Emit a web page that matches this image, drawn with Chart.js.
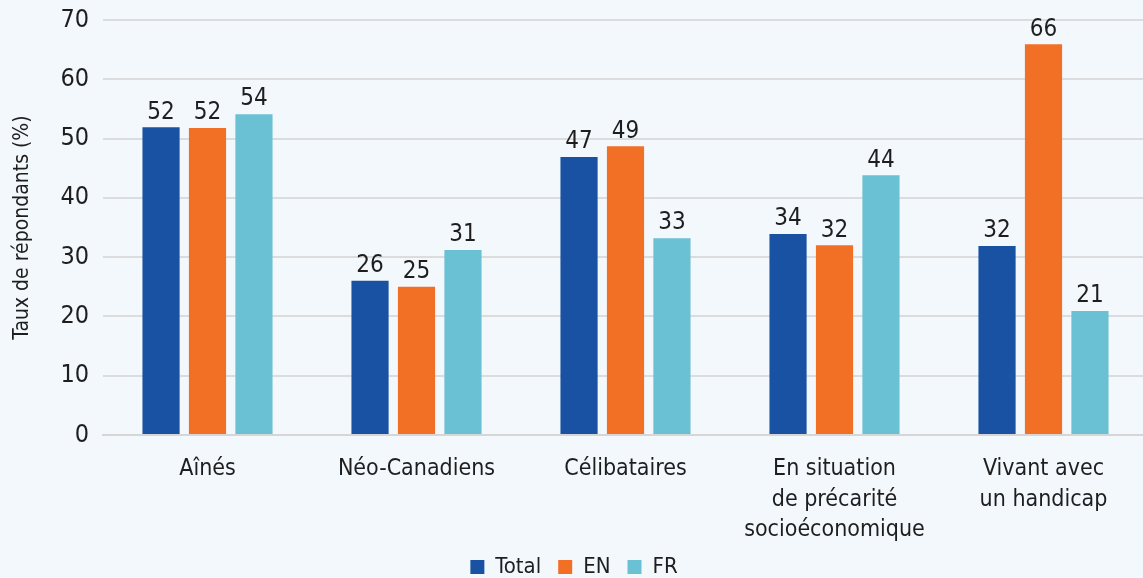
<!DOCTYPE html>
<html><head><meta charset="utf-8">
<script src="https://cdn.jsdelivr.net/npm/chart.js@4/dist/chart.umd.min.js"></script>
<style>
html,body{margin:0;padding:0;background:#f3f8fc;overflow:hidden;width:1143px;height:578px;}
#wrap{position:absolute;left:0;top:0;width:1148px;height:578px;}
</style></head>
<body><div id="wrap"><canvas id="c" width="1148" height="578"></canvas></div>
<script>
const categories = [["Aînés"], ["Néo-Canadiens"], ["Célibataires"], ["En situation","de précarité","socioéconomique"], ["Vivant avec","un handicap"]];
const seriesNames = ["Total", "EN", "FR"];
const totalValues = [51.9, 26.0, 46.9, 33.9, 31.9];
const enValues = [51.8, 25.0, 48.7, 32.0, 65.9];
const frValues = [54.1, 31.2, 33.2, 43.8, 20.9];
const colors = ["#1a52a3", "#f26f26", "#6bc1d4"];
const yTicks = [0, 10, 20, 30, 40, 50, 60, 70];
const FONT = "'DejaVu Sans Condensed','Liberation Sans Narrow','Roboto',sans-serif";

const labelPlugin = {
  id: 'valLabels',
  afterLayout(chart) {
    if (chart.legend) { chart.legend.top = 539; chart.legend.bottom = 578; chart.legend.height = 39; }
  },
  afterDatasetsDraw(chart) {
    const ctx = chart.ctx;
    ctx.save();
    ctx.font = "24px " + FONT;
    ctx.fillStyle = "#1e1e1e";
    ctx.textAlign = "center";
    ctx.textBaseline = "bottom";
    chart.data.datasets.forEach((ds, i) => {
      chart.getDatasetMeta(i).data.forEach((bar, j) => {
        ctx.fillText(String(Math.round(ds.data[j])), bar.x, bar.y - 3);
      });
    });
    ctx.restore();
  }
};

new Chart(document.getElementById('c'), {
  type: 'bar',
  data: {
    labels: categories,
    datasets: [
      {label: seriesNames[0], data: totalValues, backgroundColor: colors[0]},
      {label: seriesNames[1], data: enValues, backgroundColor: colors[1]},
      {label: seriesNames[2], data: frValues, backgroundColor: colors[2]}
    ]
  },
  options: {
    responsive: false,
    animation: false,
    devicePixelRatio: 1,
    categoryPercentage: 0.667,
    barPercentage: 0.8,
    layout: {padding: {top: 20, right: 0, left: 0, bottom: 0}},
    plugins: {
      legend: {
        position: 'bottom',
        maxHeight: 31,
        labels: {
          font: {family: FONT, size: 22},
          color: "#1e1e1e",
          boxWidth: 14, boxHeight: 14,
          padding: 17
        }
      },
      tooltip: {enabled: false}
    },
    scales: {
      x: {
        grid: {display: false},
        border: {display: true, color: "#d6d6d6", width: 2},
        ticks: {font: {family: FONT, size: 23, lineHeight: 1.33}, color: "#1e1e1e", maxRotation: 0, padding: 11},
        afterFit(s) { s.height = 112; s.paddingLeft = 0; s.paddingRight = 0; }
      },
      y: {
        min: 0, max: 70,
        afterBuildTicks(s) { s.ticks = yTicks.map(v => ({value: v})); },
        grid: {color: "#dcdcdc", lineWidth: 2, drawTicks: false},
        border: {display: false},
        ticks: {font: {family: FONT, size: 25}, color: "#1e1e1e", padding: 14},
        title: {display: true, text: "Taux de répondants (%)", font: {family: FONT, size: 21}, color: "#1e1e1e", padding: {top: 10, bottom: 8}},
        afterFit(s) { s.width = 103; s.paddingTop = 0; s.paddingBottom = 0; }
      }
    }
  },
  plugins: [labelPlugin]
});
</script></body></html>
